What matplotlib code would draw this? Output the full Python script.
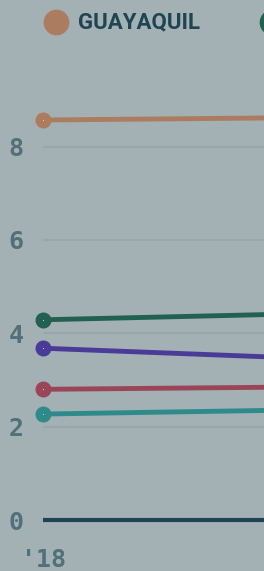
import matplotlib
matplotlib.use("Agg")
import matplotlib.pyplot as plt

# data (only the first year is visible in the crop; the line runs off to the right)
years = ["'18", "'19"]
cities = ["GUAYAQUIL", "QUITO", "CUENCA", "AMBATO", "MANTA"]
guayaquil = [8.57, 8.66]
quito = [4.29, 4.52]
cuenca = [3.68, 3.30]
ambato = [2.80, 2.89]
manta = [2.27, 2.43]
series = [guayaquil, quito, cuenca, ambato, manta]
colors = ["#ac7c61", "#22614f", "#4a3b98", "#9b4658", "#2f8a8c"]
yticks = [0, 2, 4, 6, 8]

BG = "#a3b0b4"
W, H = 264, 571

fig = plt.figure(figsize=(W / 100, H / 100), dpi=100, facecolor=BG)
# axes extends past the right edge: the figure is a crop of a wider chart
ax = fig.add_axes([43.3 / W, (H - 520) / H, 460 / W, 443.4 / H])
ax.set_facecolor(BG)
ax.set_xlim(0, 1)
ax.set_ylim(0, 9.5)
for s in ax.spines.values():
    s.set_visible(False)

x = list(range(len(years)))
for vals, c in zip(series, colors):
    ax.plot(x, vals, color=c, lw=3.5, solid_capstyle="round", zorder=3, clip_on=False)
    ax.plot(x[:1], vals[:1], "o", ms=10.5, color=c, zorder=4, clip_on=False)
    ax.plot(x[:1], vals[:1], "o", ms=0.8, mew=0, color="#d8dcdc", zorder=5, clip_on=False)

for t in yticks[1:]:
    ax.axhline(t, color="#95a5a9", lw=1.3, zorder=1, solid_capstyle="butt")
ax.axhline(0, color="#1e4352", lw=3, zorder=2, clip_on=False, solid_capstyle="butt")

ax.set_yticks(yticks)
ax.set_yticklabels([str(t) for t in yticks])
ax.set_xticks(x)
ax.set_xticklabels(years)
ax.tick_params(axis="both", length=0, colors="#50707a")
ax.tick_params(axis="y", pad=14)
ax.tick_params(axis="x", pad=20)
for lab in ax.get_yticklabels() + ax.get_xticklabels():
    lab.set_family("DejaVu Sans Mono")
    lab.set_fontweight("bold")
    lab.set_fontsize(18)

# legend row across the top (continues off the right edge)
for i, (name, c) in enumerate(zip(cities, colors)):
    cx = 56 + i * 216
    fig.lines.append(plt.Line2D([cx / W], [1 - 22 / H], marker="o", ms=17.5,
                                color=c, transform=fig.transFigure))
    fig.text((cx + 22) / W, 1 - 22 / H, name, ha="left", va="center",
             fontsize=16, fontweight="bold", family="Roboto", color="#1f4552")

fig.savefig("out.png", dpi=100, facecolor=BG)
